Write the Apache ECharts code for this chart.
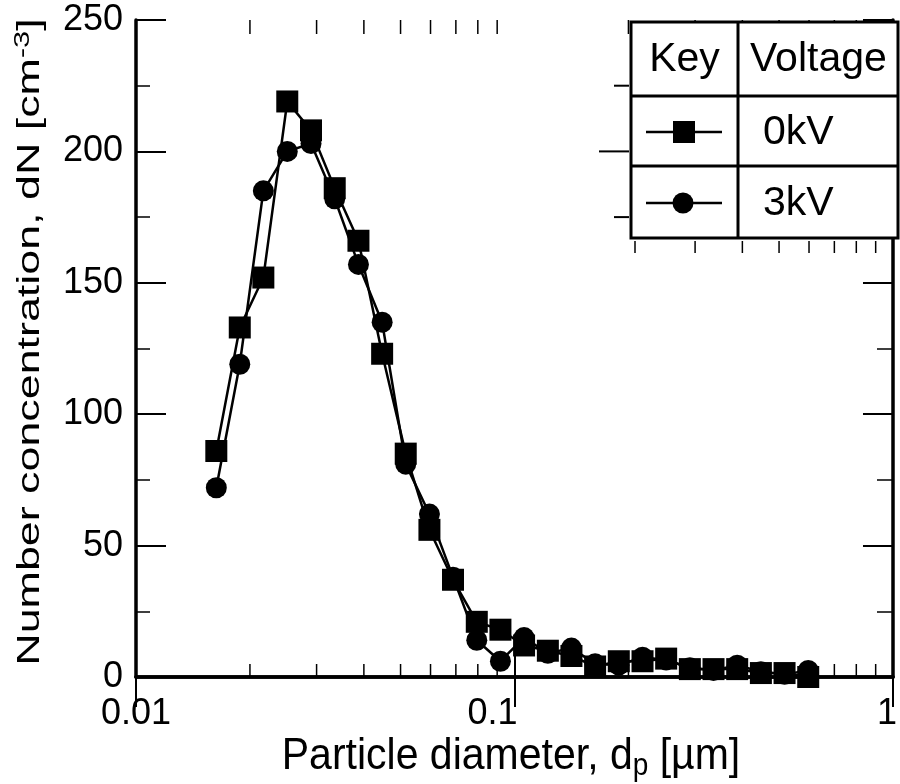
<!DOCTYPE html>
<html>
<head>
<meta charset="utf-8">
<script src="https://cdn.jsdelivr.net/npm/echarts@6/dist/echarts.min.js"></script>
<style>
  html, body { margin: 0; padding: 0; background: #fff; }
  #chart { width: 900px; height: 784px; }
</style>
</head>
<body>
<div id="chart"></div>
<script>
// Particle size channels (µm) and measured number concentrations (cm^-3)
const diameters = [0.0163, 0.0188, 0.0217, 0.0251, 0.0290, 0.0335, 0.0387, 0.0447, 0.0516,
  0.0596, 0.0688, 0.0795, 0.0918, 0.106, 0.1225, 0.1414, 0.1633, 0.1886, 0.2179, 0.2516,
  0.2906, 0.3356, 0.3876, 0.4477, 0.517, 0.5971];
const conc0kV = [86, 133, 152, 219, 208, 186, 166, 123, 85, 56, 37, 21, 18, 12, 10, 8,
  4, 6, 6, 7, 3, 3, 3, 1.5, 1.5, 0];
const conc3kV = [72, 119, 185, 200, 203, 182, 157, 135, 81, 62, 38, 14, 6, 15, 9, 11,
  5, 4.5, 7.5, 6.5, 3.5, 2.5, 4.5, 2, 1, 2.5];

// Axis annotations
const xTickLabels = ['0.01', '0.1', '1'];
const xMinorTicks = [0.02, 0.03, 0.04, 0.05, 0.06, 0.07, 0.08, 0.09,
  0.2, 0.3, 0.4, 0.5, 0.6, 0.7, 0.8, 0.9];
const yTickLabels = ['0', '50', '100', '150', '200', '250'];
// concentration ticks repeated along the left edge of the key table
const keyEdgeTicks = [175, 200, 225];

// Key table rows
const keyHeader = ['Key', 'Voltage'];
const keyRows = [
  { label: '0kV', symbol: 'square' },
  { label: '3kV', symbol: 'circle' }
];

const FONT = '"Liberation Sans", Arial, Helvetica, sans-serif';
const INK = '#000';

// Layout of the key table (pixels)
const table = { left: 631, top: 22, right: 898, bottom: 238, split: 738, rows: [96, 166] };

const chart = echarts.init(document.getElementById('chart'), null, { renderer: 'canvas' });

function keyGraphics() {
  const g = [];
  const lw = 3;
  g.push({ type: 'rect', z: 100,
    shape: { x: table.left, y: table.top, width: table.right - table.left, height: table.bottom - table.top },
    style: { fill: '#fff', stroke: INK, lineWidth: lw } });
  g.push({ type: 'line', z: 101,
    shape: { x1: table.split, y1: table.top, x2: table.split, y2: table.bottom },
    style: { stroke: INK, lineWidth: lw } });
  table.rows.forEach(y => g.push({ type: 'line', z: 101,
    shape: { x1: table.left, y1: y, x2: table.right, y2: y },
    style: { stroke: INK, lineWidth: lw } }));
  const rowTops = [table.top].concat(table.rows);
  const rowBottoms = table.rows.concat([table.bottom]);
  const mid = i => (rowTops[i] + rowBottoms[i]) / 2 + 1;
  g.push({ type: 'text', z: 102, x: (table.left + table.split) / 2, y: mid(0),
    style: { text: keyHeader[0], font: '41px ' + FONT, fill: INK, align: 'center', verticalAlign: 'middle' } });
  g.push({ type: 'text', z: 102, x: table.split + 12, y: mid(0),
    style: { text: keyHeader[1], font: '41px ' + FONT, fill: INK, align: 'left', verticalAlign: 'middle' } });
  keyRows.forEach((row, i) => {
    const y = mid(i + 1);
    const cx = 684;
    g.push({ type: 'line', z: 102, shape: { x1: 646, y1: y, x2: 722, y2: y },
      style: { stroke: INK, lineWidth: 2.5 } });
    if (row.symbol === 'square') {
      g.push({ type: 'rect', z: 103, shape: { x: cx - 11, y: y - 11, width: 22, height: 22 },
        style: { fill: INK } });
    } else {
      g.push({ type: 'circle', z: 103, shape: { cx: cx - 1, cy: y, r: 10.5 }, style: { fill: INK } });
    }
    g.push({ type: 'text', z: 102, x: table.split + 25, y: y + 1,
      style: { text: row.label, font: '41px ' + FONT, fill: INK, align: 'left', verticalAlign: 'middle' } });
  });
  return g;
}

function titleGraphics() {
  return [
    { type: 'text', x: 511, y: 757, scaleY: 1.1,
      style: {
        text: 'Particle diameter, d{sub|p} [{mu|\u00b5}m]',
        font: '41px ' + FONT, fill: INK, align: 'center', verticalAlign: 'middle',
        rich: {
          sub: { font: '28px ' + FONT, fill: INK, padding: [17, 0, 0, 0] },
          mu: { font: '41px ' + FONT, fill: INK }
        }
      } },
    { type: 'text', x: 30, y: 342, rotation: Math.PI / 2, scaleX: 1.4,
      style: {
        text: 'Number concentration, dN [cm{sup|-3}]',
        font: '32px ' + FONT, fill: INK, align: 'center', verticalAlign: 'middle',
        rich: {
          sup: { font: '22px ' + FONT, fill: INK, padding: [0, 0, 14, 0] }
        }
      } }
  ];
}

const axisLine = { show: true, lineStyle: { color: INK, width: 3.5 } };

const option = {
  backgroundColor: '#fff',
  animation: false,
  grid: { left: 136, right: 3, top: 20, bottom: 107, containLabel: false },
  xAxis: [
    {
      type: 'log', logBase: 10, min: 0.01, max: 1, position: 'bottom',
      axisLine: axisLine,
      axisTick: { show: true, inside: true, length: 30, lineStyle: { color: INK, width: 2 } },
      splitLine: { show: false },
      axisLabel: {
        show: true, margin: 19, color: INK, fontFamily: FONT, fontSize: 36,
        showMinLabel: true, showMaxLabel: true,
        formatter: v => {
          const e = Math.round(Math.log10(v));
          const t = xTickLabels[e + 2];
          if (e === -1) return '{left|' + t + '}';
          if (e === 0) return '{edge|' + t + '}';
          return t;
        },
        rich: {
          left: { fontFamily: FONT, fontSize: 36, color: INK, padding: [0, 44, 0, 0] },
          edge: { fontFamily: FONT, fontSize: 36, color: INK, padding: [0, 12, 0, 0] }
        }
      }
    },
    {
      type: 'log', logBase: 10, min: 0.01, max: 1, position: 'top',
      axisLine: axisLine,
      axisTick: { show: true, inside: true, length: 30, lineStyle: { color: INK, width: 2 } },
      splitLine: { show: false },
      axisLabel: { show: false }
    }
  ],
  yAxis: [
    {
      type: 'value', min: 0, max: 250, interval: 50, position: 'left',
      axisLine: axisLine,
      axisTick: { show: true, inside: true, length: 30, lineStyle: { color: INK, width: 2 } },
      minorTick: { show: true, splitNumber: 2, length: 14, lineStyle: { color: INK, width: 1.5 } },
      splitLine: { show: false },
      axisLabel: {
        show: true, margin: 13, color: INK, fontFamily: FONT, fontSize: 36,
        formatter: v => yTickLabels[Math.round(v / 50)]
      }
    },
    {
      type: 'value', min: 0, max: 250, interval: 50, position: 'right',
      axisLine: axisLine,
      axisTick: { show: true, inside: true, length: 30, lineStyle: { color: INK, width: 2 } },
      minorTick: { show: true, splitNumber: 2, length: 16, lineStyle: { color: INK, width: 1.5 } },
      splitLine: { show: false },
      axisLabel: { show: false }
    }
  ],
  series: [
    {
      name: '0kV', type: 'line', xAxisIndex: 0, yAxisIndex: 0,
      data: diameters.map((d, i) => [d, conc0kV[i]]),
      symbol: 'rect', symbolSize: 22, clip: false,
      lineStyle: { color: INK, width: 2.5 },
      itemStyle: { color: INK }, z: 3
    },
    {
      name: '3kV', type: 'line', xAxisIndex: 0, yAxisIndex: 0,
      data: diameters.map((d, i) => [d, conc3kV[i]]),
      symbol: 'circle', symbolSize: 21, clip: false,
      lineStyle: { color: INK, width: 2.5 },
      itemStyle: { color: INK }, z: 4
    },
    {
      // minor ticks of the logarithmic diameter axis (bottom, top, and below the key)
      type: 'custom', xAxisIndex: 0, yAxisIndex: 0, silent: true, z: 2,
      data: xMinorTicks.map(d => [d, 0]),
      renderItem: (params, api) => {
        const x = api.coord([api.value(0), 0])[0];
        const cs = params.coordSys;
        const bottom = cs.y + cs.height;
        const style = { stroke: INK, lineWidth: 1.5 };
        const children = [
          { type: 'line', shape: { x1: x, y1: bottom, x2: x, y2: bottom - 13 }, style: style },
          { type: 'line', shape: { x1: x, y1: cs.y, x2: x, y2: cs.y + 14 }, style: style }
        ];
        if (x > table.left - 4 && x < table.right) {
          const xx = Math.max(x, table.left + 4);
          children.push({ type: 'line',
            shape: { x1: xx, y1: table.bottom + 3, x2: xx, y2: table.bottom + 15 }, style: style });
        }
        return { type: 'group', children: children };
      }
    },
    {
      // concentration ticks hanging off the key table's left edge
      type: 'custom', xAxisIndex: 0, yAxisIndex: 0, silent: true, z: 2,
      data: keyEdgeTicks.map(v => [1, v]),
      renderItem: (params, api) => {
        const v = api.value(1);
        const y = api.coord([1, v])[1];
        const len = v % 50 === 0 ? 30 : 15;
        return { type: 'line',
          shape: { x1: table.left - 2, y1: y, x2: table.left - 2 - len, y2: y },
          style: { stroke: INK, lineWidth: 2 } };
      }
    }
  ],
  graphic: keyGraphics().concat(titleGraphics())
};

chart.setOption(option);
</script>
</body>
</html>
